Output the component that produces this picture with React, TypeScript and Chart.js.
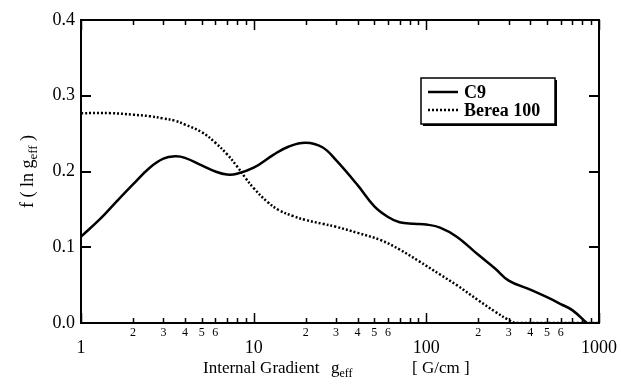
import React, { useEffect, useRef } from "react";
import { Chart, registerables } from "chart.js";

Chart.register(...registerables);

const c9G = [1, 1.3, 1.6, 2, 2.5, 3, 3.5, 4, 5, 6, 7, 8, 10, 13, 16, 20, 25, 30, 40, 50, 60, 70, 85, 100, 120, 150, 200, 250, 300, 400, 500, 600, 700, 850];
const c9F = [0.114, 0.138, 0.16, 0.183, 0.205, 0.217, 0.22, 0.218, 0.208, 0.2, 0.196, 0.197, 0.205, 0.222, 0.233, 0.238, 0.232, 0.215, 0.182, 0.154, 0.14, 0.133, 0.131, 0.13, 0.126, 0.114, 0.09, 0.072, 0.056, 0.044, 0.034, 0.025, 0.017, 0.0];

const bereaG = [1, 1.5, 2, 2.5, 3, 3.5, 4, 5, 6, 7, 8, 9, 10, 12, 14, 17, 20, 25, 30, 40, 55, 70, 90, 120, 150, 200, 250, 300, 330, 500, 700, 1000];
const bereaF = [0.277, 0.277, 0.275, 0.273, 0.27, 0.267, 0.262, 0.252, 0.238, 0.223, 0.207, 0.191, 0.178, 0.16, 0.149, 0.141, 0.136, 0.131, 0.127, 0.119, 0.109, 0.097, 0.082, 0.064, 0.05, 0.03, 0.015, 0.004, 0.0, 0.0, 0.0, 0.0];

const yTickValues = [0, 0.1, 0.2, 0.3, 0.4];
const xMajorTicks = [1, 10, 100, 1000];
const xMinorLabels = [2, 3, 4, 5, 6];
const seriesNames = ["C9", "Berea 100"];

const SERIF = "'Liberation Serif', 'DejaVu Serif', serif";

const framePlugin = {
  id: "framePlugin",
  afterDraw(chart: any) {
    const { ctx, chartArea: a, scales } = chart;
    const xs = scales.x;
    const ys = scales.y;
    ctx.save();
    ctx.strokeStyle = "#000";
    ctx.fillStyle = "#000";
    // frame
    ctx.lineWidth = 2;
    ctx.strokeRect(a.left, a.top, a.right - a.left, a.bottom - a.top);
    // x ticks (inward, top & bottom)
    ctx.lineWidth = 1.5;
    for (let d = 1; d <= 1000; d *= 10) {
      for (let m = 1; m <= 9; m++) {
        const v = m * d;
        if (v > 1000) break;
        const px = Math.round(xs.getPixelForValue(v)) + 0.5;
        const len = m === 1 ? 10 : 5;
        ctx.beginPath();
        ctx.moveTo(px, a.bottom);
        ctx.lineTo(px, a.bottom - len);
        ctx.moveTo(px, a.top);
        ctx.lineTo(px, a.top + len);
        ctx.stroke();
      }
    }
    // y ticks (inward, left & right)
    ctx.lineWidth = 2;
    yTickValues.forEach((v) => {
      const py = Math.round(ys.getPixelForValue(v));
      ctx.beginPath();
      ctx.moveTo(a.left, py);
      ctx.lineTo(a.left + 10, py);
      ctx.moveTo(a.right, py);
      ctx.lineTo(a.right - 10, py);
      ctx.stroke();
    });
    // x major labels
    ctx.textAlign = "center";
    ctx.textBaseline = "middle";
    ctx.font = `18px ${SERIF}`;
    xMajorTicks.forEach((v) => {
      ctx.fillText(String(v), xs.getPixelForValue(v), a.bottom + 25);
    });
    // x minor labels
    ctx.font = `12px ${SERIF}`;
    [1, 10, 100].forEach((d) => {
      xMinorLabels.forEach((m) => {
        ctx.fillText(String(m), xs.getPixelForValue(m * d), a.bottom + 10);
      });
    });
    // x title
    ctx.textAlign = "left";
    ctx.textBaseline = "alphabetic";
    const ty = a.bottom + 50;
    ctx.font = `17px ${SERIF}`;
    ctx.fillText("Internal Gradient", 203, ty);
    ctx.fillText("g", 331, ty);
    const gw = ctx.measureText("g").width;
    ctx.font = `12px ${SERIF}`;
    ctx.fillText("eff", 331 + gw, ty + 4);
    ctx.font = `17px ${SERIF}`;
    ctx.fillText("[ G/cm ]", 412, ty);
    // y title
    ctx.save();
    ctx.translate(33, (a.top + a.bottom) / 2);
    ctx.rotate(-Math.PI / 2);
    const p1 = "f ( ln g";
    const p3 = " )";
    ctx.font = `18px ${SERIF}`;
    const w1 = ctx.measureText(p1).width;
    const w3 = ctx.measureText(p3).width;
    ctx.font = `13px ${SERIF}`;
    const w2 = ctx.measureText("eff").width;
    const total = w1 + w2 + w3;
    const x0 = -total / 2;
    ctx.font = `18px ${SERIF}`;
    ctx.fillText(p1, x0, 0);
    ctx.font = `13px ${SERIF}`;
    ctx.fillText("eff", x0 + w1, 4);
    ctx.font = `18px ${SERIF}`;
    ctx.fillText(p3, x0 + w1 + w2, 0);
    ctx.restore();
    // legend
    const lx = a.left + 340;
    const ly = a.top + 58;
    const lw = 134;
    const lh = 46;
    ctx.fillStyle = "#000";
    ctx.fillRect(lx + 2, ly + 2, lw, lh);
    ctx.fillStyle = "#fff";
    ctx.fillRect(lx, ly, lw, lh);
    ctx.lineWidth = 1.5;
    ctx.strokeStyle = "#000";
    ctx.strokeRect(lx, ly, lw, lh);
    const items = [
      { dash: [] as number[], y: ly + 14 },
      { dash: [2, 2], y: ly + 32 },
    ];
    items.forEach((it, i) => {
      ctx.beginPath();
      ctx.setLineDash(it.dash);
      ctx.lineWidth = 2.5;
      ctx.moveTo(lx + 7, it.y);
      ctx.lineTo(lx + 37, it.y);
      ctx.stroke();
      ctx.setLineDash([]);
      ctx.fillStyle = "#000";
      ctx.font = `bold 18px ${SERIF}`;
      ctx.textBaseline = "middle";
      ctx.fillText(seriesNames[i], lx + 43, it.y + 1);
    });
    ctx.restore();
  },
};

export default function App() {
  const canvasRef = useRef<HTMLCanvasElement | null>(null);
  useEffect(() => {
    document.body.style.margin = "0";
    const canvas = canvasRef.current!;
    const chart = new Chart(canvas, {
      type: "line",
      data: {
        datasets: [
          {
            label: seriesNames[0],
            data: c9G.map((g, i) => ({ x: g, y: c9F[i] })),
            borderColor: "#000",
            borderWidth: 2.5,
            pointRadius: 0,
            tension: 0.4,
            fill: false,
          },
          {
            label: seriesNames[1],
            data: bereaG.map((g, i) => ({ x: g, y: bereaF[i] })),
            borderColor: "#000",
            borderWidth: 2.5,
            borderDash: [2, 2],
            pointRadius: 0,
            tension: 0.4,
            fill: false,
          },
        ],
      },
      options: {
        animation: false,
        responsive: false,
        maintainAspectRatio: false,
        layout: { padding: { left: 0, right: 22, top: 20, bottom: 0 } },
        plugins: { legend: { display: false }, tooltip: { enabled: false } },
        scales: {
          x: {
            type: "logarithmic",
            min: 1,
            max: 1000,
            grid: { display: false, drawTicks: false },
            border: { display: false },
            ticks: { display: false },
            afterFit: (s: any) => {
              s.height = 61;
            },
          },
          y: {
            min: 0,
            max: 0.4,
            grid: { display: false, drawTicks: false },
            border: { display: false },
            ticks: {
              stepSize: 0.1,
              color: "#000",
              padding: 6,
              font: { family: SERIF, size: 18 },
              callback: (v: any) => Number(v).toFixed(1),
            },
            afterFit: (s: any) => {
              s.width = 81;
            },
          },
        },
      },
      plugins: [framePlugin],
    } as any);
    return () => chart.destroy();
  }, []);
  return <canvas ref={canvasRef} width={621} height={384} style={{ display: "block" }} />;
}
